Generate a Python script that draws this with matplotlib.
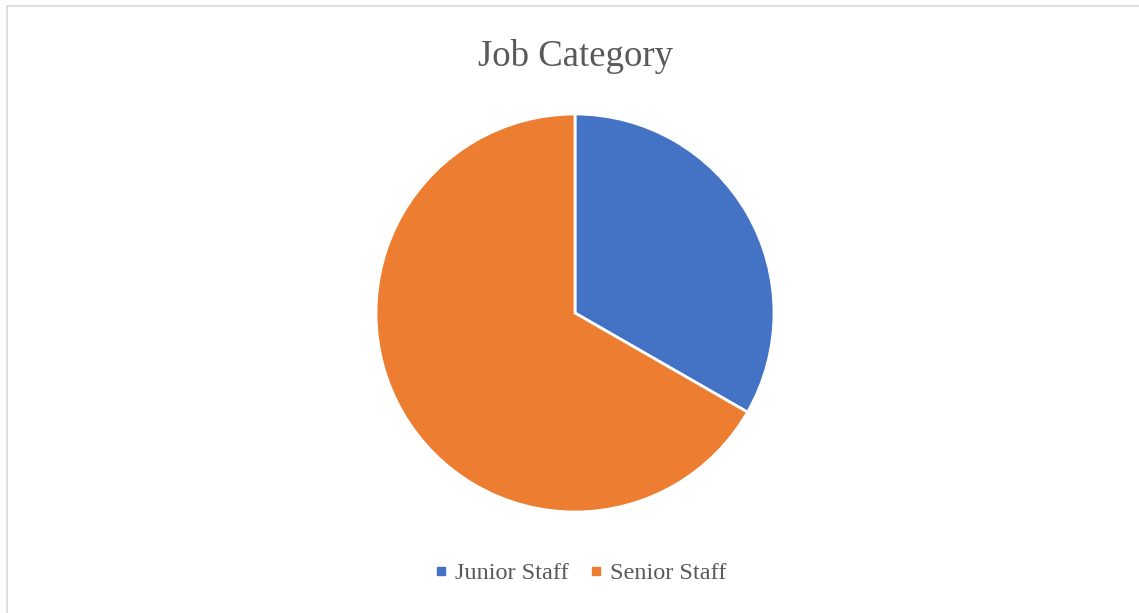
import matplotlib.pyplot as plt
from matplotlib.lines import Line2D

categories = ['Junior Staff', 'Senior Staff']
values = [33.3, 66.7]
colors = ['#4472C4', '#ED7D31']

plt.rcParams['font.family'] = ['Liberation Serif', 'DejaVu Serif']
text_color = '#595959'

fig = plt.figure(figsize=(11.39, 6.13), dpi=100)
fig.patch.set_facecolor('white')

# light border (only top and left edges visible in the crop)
fig.add_artist(Line2D([7 / 1139, 1.0], [1 - 6 / 613, 1 - 6 / 613], transform=fig.transFigure,
                      color='#d9d9d9', lw=1.2))
fig.add_artist(Line2D([7 / 1139, 7 / 1139], [0.0, 1 - 6 / 613], transform=fig.transFigure,
                      color='#d9d9d9', lw=1.2))

ax = fig.add_axes([(575 - 199) / 1139, (613 - 313 - 199) / 613, 398 / 1139, 398 / 613])
ax.pie(values, colors=colors, startangle=90, counterclock=False,
       wedgeprops=dict(edgecolor='white', linewidth=2))
ax.set_xlim(-1, 1)
ax.set_ylim(-1, 1)
ax.set_aspect('equal')

fig.text(575 / 1139, 1 - 57 / 613, 'Job Category', ha='center', va='center',
         fontsize=26.5, color=text_color)

handles = [Line2D([], [], marker='s', linestyle='none', markersize=6,
                  markerfacecolor=c, markeredgecolor=c) for c in colors]
fig.legend(handles, categories, loc='center', bbox_to_anchor=(580 / 1139, 1 - 573 / 613),
           ncol=2, frameon=False, fontsize=17.5, labelcolor=text_color,
           handlelength=0.6, handletextpad=0.3, columnspacing=0.8)

fig.savefig('out.png', dpi=100)
